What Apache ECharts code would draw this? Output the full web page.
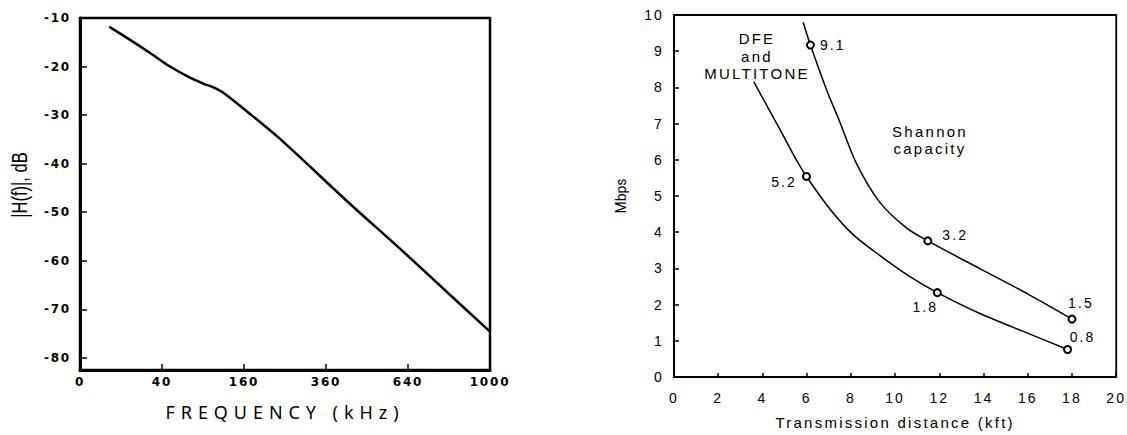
<!DOCTYPE html>
<html>
<head>
<meta charset="utf-8">
<script src="https://cdn.jsdelivr.net/npm/echarts@6/dist/echarts.min.js"></script>
<style>
  html, body { margin: 0; padding: 0; background: #fff; }
  #wrap { position: relative; width: 1127px; height: 435px; }
  #left { position: absolute; left: 0; top: 0; width: 560px; height: 435px; }
  #right { position: absolute; left: 560px; top: 0; width: 567px; height: 435px; }
  /* the scanned figure uses a wide, spaced-out typeface */
  #left text[style*="DejaVu"] { letter-spacing: 0.15em; }
  #left text[style*="Noto"] { letter-spacing: 0.33em; }
  #right text[style*="Liberation"] { letter-spacing: 0.15em; }
</style>
</head>
<body>
<div id="wrap">
  <div id="left"></div>
  <div id="right"></div>
</div>
<script>
// left panel: loop attenuation vs frequency (square-root frequency scale)
const freqKHz = [5.1, 14.9, 29.2, 48.2, 72.0, 90.4, 105.7, 122.2, 165.3, 238, 434, 609, 814, 1000];
const gainDb = [-11.8, -14.5, -17.2, -20.0, -22.3, -23.5, -24.3, -25.4, -29.2, -34.9, -48.3, -57.5, -67.0, -74.6];
const freqTicks = [0, 40, 160, 360, 640, 1000];
const dbTicks = [-80, -70, -60, -50, -40, -30, -20, -10];

// right panel: achievable bit rate vs transmission distance
const shannonDist = [5.84, 6.17, 6.89, 7.49, 8.25, 9.30, 10.51, 11.48, 13.81, 16.07, 18.0];
const shannonRate = [9.80, 9.17, 7.95, 7.06, 5.90, 4.83, 4.12, 3.76, 3.00, 2.27, 1.60];
const shannonMarks = { 1: '9.1', 7: '3.2', 10: '1.5' };

const dfeDist = [3.61, 4.79, 5.54, 5.99, 7.04, 8.09, 9.30, 10.65, 11.91, 13.81, 16.07, 17.80];
const dfeRate = [8.15, 6.84, 5.99, 5.54, 4.65, 3.94, 3.36, 2.78, 2.33, 1.76, 1.19, 0.76];
const dfeMarks = { 3: '5.2', 8: '1.8', 11: '0.8' };

const labelPos = {
  '9.1': { position: 'right', offset: [0, 0] },
  '3.2': { position: 'right', offset: [5, -6] },
  '1.5': { position: 'top', offset: [9, 0] },
  '5.2': { position: 'left', offset: [0, 6] },
  '1.8': { position: 'bottom', offset: [-12, -2] },
  '0.8': { position: 'top', offset: [15, 4] }
};

function buildLine(xs, ys, marks) {
  return xs.map((x, i) => {
    const txt = marks[i];
    if (!txt) return [x, ys[i]];
    const lp = labelPos[txt];
    return {
      value: [x, ys[i]],
      symbol: 'emptyCircle',
      symbolSize: 7,
      label: {
        show: true,
        formatter: txt,
        position: lp.position,
        offset: lp.offset,
        distance: 5,
        color: '#000',
        fontSize: 14,
        fontFamily: 'Liberation Sans'
      }
    };
  });
}

// ---------- left chart ----------
const leftChart = echarts.init(document.getElementById('left'), null, { renderer: 'svg' });
const leftOption = {
  animation: false,
  backgroundColor: '#fff',
  grid: { left: 80, top: 18, width: 410, height: 352, show: true, borderColor: '#000', borderWidth: 2.5 },
  xAxis: {
    type: 'value',
    min: 0,
    max: Math.sqrt(1000),
    axisLine: { lineStyle: { color: '#000', width: 3 } },
    axisTick: { inside: true, length: 6, lineStyle: { color: '#000', width: 1.5 }, customValues: freqTicks.map(Math.sqrt) },
    axisLabel: {
      customValues: freqTicks.map(Math.sqrt),
      formatter: v => String(Math.round(v * v)),
      color: '#000', fontWeight: 'bold', fontSize: 12, fontFamily: 'DejaVu Sans', margin: 6
    },
    splitLine: { show: false },
    name: 'FREQUENCY (kHz)',
    nameLocation: 'middle',
    nameGap: 33,
    nameTextStyle: { color: '#000', fontSize: 18, fontFamily: 'Noto Sans' }
  },
  yAxis: {
    type: 'value',
    min: -82.5,
    max: -10,
    axisLine: { lineStyle: { color: '#000', width: 3 } },
    axisTick: { inside: true, length: 7, lineStyle: { color: '#000', width: 1.5 }, customValues: dbTicks },
    axisLabel: { customValues: dbTicks, color: '#000', fontWeight: 'bold', fontSize: 12, fontFamily: 'DejaVu Sans', margin: 9 },
    splitLine: { show: false }
  },
  graphic: [
    {
      type: 'text', x: 19, y: 185, rotation: Math.PI / 2, scaleX: 0.75,
      style: {
        text: '|H(f)|, dB', fill: '#000', fontSize: 22, fontFamily: 'Liberation Sans',
        align: 'center', verticalAlign: 'middle', textAlign: 'center', textVerticalAlign: 'middle'
      }
    }
  ],
  series: [
    {
      name: 'H',
      type: 'line',
      smooth: 0.3,
      symbol: 'none',
      lineStyle: { color: '#000', width: 2.5 },
      data: freqKHz.map((f, i) => [Math.sqrt(f), gainDb[i]])
    }
  ]
};
leftOption && leftChart.setOption(leftOption);

// ---------- right chart ----------
const rightChart = echarts.init(document.getElementById('right'), null, { renderer: 'svg' });
const rightOption = {
  animation: false,
  backgroundColor: '#fff',
  grid: { left: 114, top: 15, width: 443, height: 374, show: true, borderColor: '#000', borderWidth: 1.8 },
  xAxis: {
    type: 'value',
    min: 0,
    max: 20,
    interval: 2,
    axisLine: { lineStyle: { color: '#000', width: 1.8 } },
    axisTick: { inside: true, length: 4, lineStyle: { color: '#000', width: 1.5 } },
    axisLabel: { color: '#000', fontSize: 14, fontFamily: 'Liberation Sans', margin: 14 },
    splitLine: { show: false },
    name: 'Transmission distance (kft)',
    nameLocation: 'middle',
    nameGap: 38,
    nameTextStyle: { color: '#000', fontSize: 15, fontFamily: 'Liberation Sans' }
  },
  yAxis: {
    type: 'value',
    min: 0,
    max: 10,
    interval: 1,
    axisLine: { lineStyle: { color: '#000', width: 1.8 } },
    axisTick: { inside: true, length: 5, lineStyle: { color: '#000', width: 1.5 } },
    axisLabel: { color: '#000', fontSize: 14, fontFamily: 'Liberation Sans', margin: 10 },
    splitLine: { show: false },
    name: 'Mbps',
    nameLocation: 'middle',
    nameGap: 46,
    nameRotate: 90,
    nameTextStyle: { color: '#000', fontSize: 14, fontFamily: 'Roboto' }
  },
  graphic: [
    {
      type: 'text', x: 197, y: 56,
      style: {
        text: 'DFE\nand\nMULTITONE', fill: '#000', fontSize: 15, fontFamily: 'Liberation Sans', lineHeight: 17.5,
        align: 'center', verticalAlign: 'middle', textAlign: 'center', textVerticalAlign: 'middle'
      }
    },
    {
      type: 'text', x: 370, y: 140,
      style: {
        text: 'Shannon\ncapacity', fill: '#000', fontSize: 15, fontFamily: 'Liberation Sans', lineHeight: 17,
        align: 'center', verticalAlign: 'middle', textAlign: 'center', textVerticalAlign: 'middle'
      }
    }
  ],
  series: [
    {
      name: 'Shannon capacity',
      type: 'line',
      smooth: 0.3,
      symbol: 'none',
      showSymbol: true,
      itemStyle: { color: '#000', borderWidth: 2 },
      lineStyle: { color: '#000', width: 1.5 },
      data: buildLine(shannonDist, shannonRate, shannonMarks)
    },
    {
      name: 'DFE and MULTITONE',
      type: 'line',
      smooth: 0.3,
      symbol: 'none',
      showSymbol: true,
      itemStyle: { color: '#000', borderWidth: 2 },
      lineStyle: { color: '#000', width: 1.5 },
      data: buildLine(dfeDist, dfeRate, dfeMarks)
    }
  ]
};
rightOption && rightChart.setOption(rightOption);
</script>
</body>
</html>
